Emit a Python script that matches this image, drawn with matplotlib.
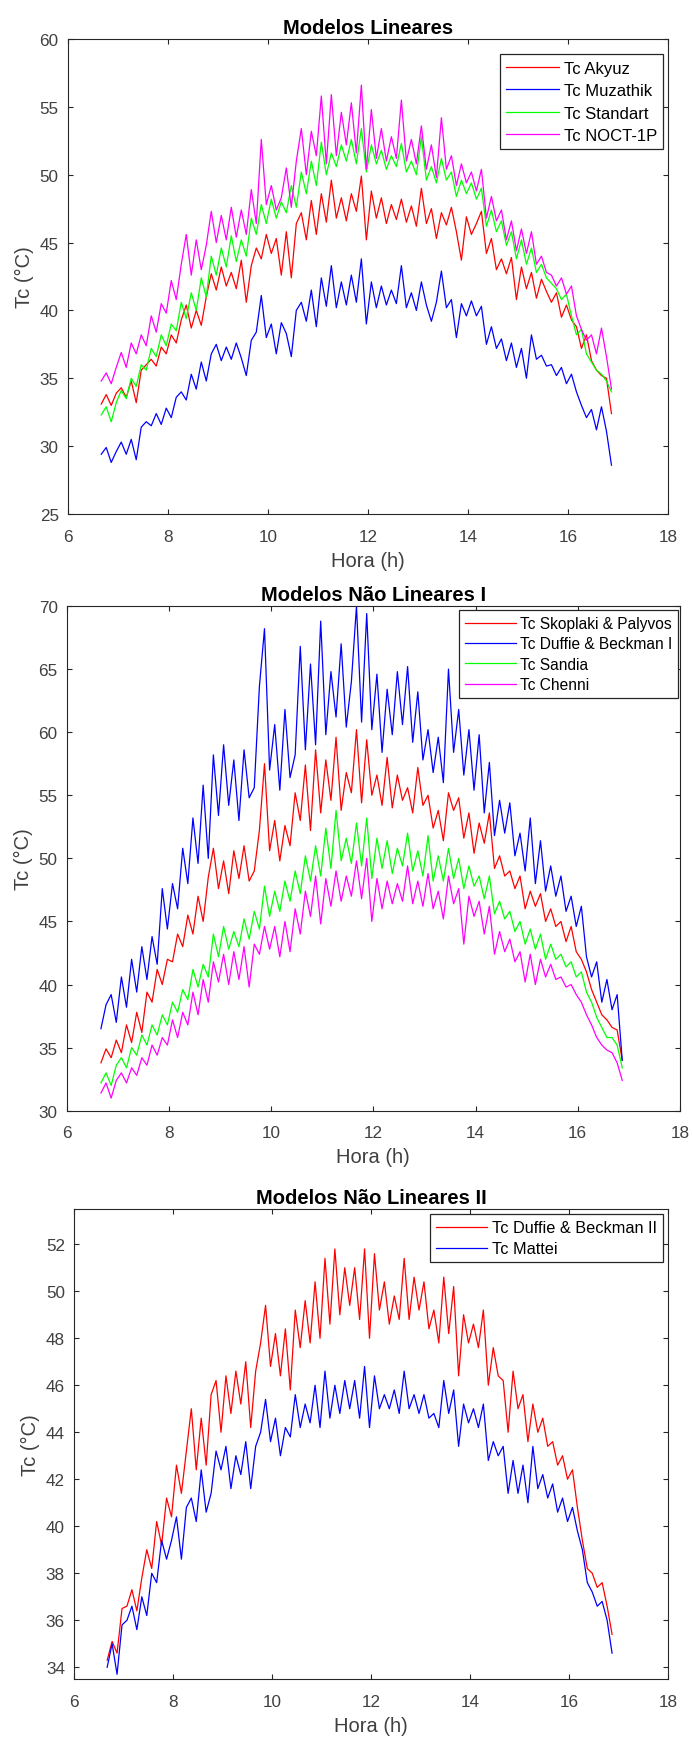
import numpy as np
import matplotlib
matplotlib.use('Agg')
import matplotlib.pyplot as plt

# time axis (h), one sample every 0.1 h
HOUR_START = 6.67
HOUR_STEP = 0.1

# ---- Modelos Lineares ----
tc_akyuz = [
    33.1, 33.8, 33.0, 33.9, 34.3, 33.6, 34.8, 33.2, 35.6, 36.0,
    36.4, 35.9, 37.3, 36.8, 38.2, 37.6, 39.3, 40.4, 38.7, 40.0,
    38.9, 41.0, 42.7, 41.5, 43.2, 41.8, 42.8, 41.6, 43.7, 40.6,
    43.3, 44.6, 43.8, 45.6, 44.2, 45.3, 42.6, 45.8, 42.4, 46.4,
    47.2, 45.2, 48.1, 45.6, 48.6, 46.5, 49.6, 46.8, 48.3, 46.6,
    48.6, 47.3, 49.9, 45.2, 48.8, 46.8, 48.3, 46.4, 47.8, 46.7,
    48.2, 46.5, 47.7, 46.2, 49.0, 46.4, 47.5, 45.3, 47.2, 46.3,
    47.6, 45.8, 43.7, 46.9, 45.6, 46.4, 47.3, 44.2, 45.3, 43.0,
    43.8, 42.7, 43.9, 40.8, 43.2, 41.6, 42.8, 40.9, 42.3, 41.4,
    40.6, 41.3, 39.5, 40.4, 39.3, 38.8, 37.2, 38.2, 36.3, 35.6,
    35.2, 35.0, 32.4]
tc_muzathik = [
    29.4, 29.9, 28.8, 29.6, 30.3, 29.4, 30.5, 29.0, 31.4, 31.8,
    31.5, 32.4, 31.6, 32.8, 32.1, 33.6, 34.0, 33.4, 35.3, 34.2,
    36.2, 34.8, 36.8, 37.5, 36.3, 37.3, 36.4, 37.6, 36.5, 35.2,
    37.8, 38.4, 41.1, 38.0, 39.0, 36.8, 39.1, 38.3, 36.6, 40.0,
    40.6, 39.2, 41.5, 38.8, 42.4, 40.3, 43.3, 40.2, 42.1, 40.4,
    42.6, 40.6, 43.8, 39.0, 42.1, 40.2, 41.8, 40.4, 41.5, 40.5,
    43.3, 40.2, 41.3, 40.0, 42.1, 40.4, 39.2, 40.6, 42.9, 40.2,
    40.8, 38.0, 40.5, 39.6, 40.7, 39.6, 40.3, 37.5, 38.8, 37.2,
    37.9, 36.3, 37.6, 35.8, 37.2, 35.0, 38.2, 36.4, 36.7, 35.9,
    36.0, 35.2, 35.8, 34.6, 35.3, 34.0, 33.0, 32.1, 32.7, 31.2,
    32.9, 31.1, 28.6]
tc_standart = [
    32.3, 32.9, 31.8, 33.2, 34.1, 33.5, 35.0, 34.4, 36.0, 35.6,
    37.2, 36.6, 38.2, 37.4, 39.0, 38.5, 40.6, 39.4, 41.3, 40.0,
    42.4, 41.0, 44.0, 42.6, 44.6, 43.2, 45.5, 43.6, 45.2, 44.0,
    46.8, 45.6, 47.8, 46.4, 48.2, 46.8, 48.0, 47.2, 49.2, 47.6,
    50.2, 48.6, 51.0, 49.2, 52.4, 50.0, 51.6, 50.6, 52.2, 51.0,
    52.6, 50.8, 53.4, 50.2, 52.2, 50.8, 51.8, 50.4, 51.4, 50.6,
    52.3, 50.2, 51.0, 50.0, 52.8, 49.6, 50.6, 49.4, 51.2, 49.6,
    50.2, 48.4, 49.6, 48.6, 49.4, 48.2, 49.0, 46.2, 47.4, 45.8,
    46.6, 44.8, 45.8, 43.8, 45.2, 43.4, 44.6, 42.8, 43.4, 42.4,
    42.0, 41.6, 40.8, 41.2, 39.6, 38.2, 38.6, 36.8, 36.2, 35.6,
    35.3, 34.8, 34.0]
tc_noct = [
    34.8, 35.4, 34.6, 35.8, 36.9, 35.8, 37.6, 36.8, 38.2, 37.4,
    39.6, 38.4, 40.5, 39.8, 42.2, 40.8, 43.4, 45.6, 42.6, 45.2,
    43.0, 44.8, 47.3, 45.0, 47.0, 45.2, 47.6, 45.4, 47.4, 45.6,
    48.9, 46.4, 52.6, 47.8, 49.2, 47.4, 48.3, 50.5, 47.6, 51.0,
    53.4, 50.0, 53.2, 51.4, 55.8, 50.8, 55.9, 51.4, 54.6, 52.2,
    55.3, 51.6, 56.6, 50.4, 54.8, 51.2, 53.4, 51.0, 52.8, 51.2,
    55.5, 51.0, 52.6, 50.8, 53.6, 50.4, 52.2, 49.8, 54.2, 50.4,
    51.4, 49.2, 50.8, 49.4, 50.2, 48.8, 50.4, 46.8, 48.4, 46.6,
    47.4, 45.2, 46.6, 44.4, 46.0, 44.2, 45.8, 43.4, 44.0, 42.8,
    42.6, 41.8, 42.4, 41.2, 41.8, 39.6, 38.6, 37.8, 38.2, 36.8,
    38.7, 36.6, 34.2]

# ---- Modelos Nao Lineares I ----
tc_skoplaki = [
    33.8, 34.9, 34.2, 35.6, 34.6, 36.8, 35.4, 37.8, 36.2, 39.4,
    38.6, 41.2, 40.0, 42.0, 41.8, 44.0, 43.0, 45.5, 44.0, 47.0,
    45.0, 48.5, 50.8, 47.6, 49.8, 47.2, 50.6, 48.4, 51.0, 48.2,
    49.0, 52.2, 57.5, 50.6, 53.0, 49.8, 52.6, 51.0, 55.2, 53.0,
    57.4, 52.2, 58.6, 53.6, 57.8, 54.6, 59.6, 53.8, 56.8, 55.2,
    60.2, 54.4, 59.4, 55.0, 56.6, 54.2, 58.0, 54.0, 56.6, 54.6,
    55.6, 53.6, 57.2, 54.2, 55.0, 52.4, 53.8, 51.4, 55.2, 53.8,
    54.8, 51.6, 53.6, 50.4, 52.8, 51.2, 53.6, 49.2, 50.2, 48.6,
    49.0, 47.6, 48.6, 46.0, 47.4, 46.2, 47.2, 45.0, 46.0, 44.6,
    45.0, 43.4, 44.6, 42.6, 42.0, 41.0, 39.6, 38.6, 37.6, 37.2,
    36.6, 36.4, 34.0]
tc_duffie_1 = [
    36.5, 38.4, 39.2, 37.0, 40.6, 38.2, 42.0, 39.4, 43.0, 40.4,
    43.8, 41.6, 47.6, 44.4, 48.0, 46.0, 50.8, 48.0, 53.2, 49.6,
    55.8, 50.0, 58.2, 53.4, 59.0, 54.2, 57.8, 53.0, 58.6, 54.8,
    55.6, 63.6, 68.2, 57.0, 60.6, 55.4, 61.8, 56.4, 58.2, 66.8,
    58.6, 65.4, 59.0, 68.8, 59.8, 64.8, 61.2, 67.0, 60.4, 64.0,
    70.0, 60.8, 69.4, 60.2, 64.6, 58.4, 63.4, 59.8, 64.8, 60.6,
    65.2, 59.2, 63.2, 57.8, 60.2, 56.8, 59.6, 56.0, 65.0, 58.4,
    61.8, 56.6, 60.2, 55.4, 59.8, 53.6, 57.6, 51.8, 54.6, 52.0,
    54.4, 50.2, 52.0, 49.0, 53.2, 48.0, 51.4, 47.4, 49.4, 47.0,
    48.6, 45.8, 47.0, 44.6, 46.2, 42.2, 40.6, 41.8, 38.6, 40.4,
    38.0, 39.2, 34.0]
tc_sandia = [
    32.2, 33.0, 32.0, 33.6, 34.2, 33.4, 35.0, 34.4, 36.0, 35.2,
    36.8, 36.0, 37.6, 36.8, 38.6, 37.8, 39.6, 38.8, 41.2, 39.8,
    41.6, 40.6, 44.0, 42.2, 44.6, 42.8, 44.2, 43.0, 45.2, 43.6,
    45.8, 44.4, 47.8, 45.4, 47.4, 45.8, 48.2, 46.6, 49.0, 47.2,
    50.2, 48.2, 51.0, 48.6, 52.4, 49.2, 53.8, 49.8, 51.6, 49.6,
    52.8, 49.4, 53.2, 48.4, 51.6, 49.2, 51.4, 48.8, 50.8, 49.4,
    52.0, 49.0, 50.6, 48.6, 51.8, 48.2, 50.2, 48.2, 50.8, 48.4,
    50.0, 47.6, 49.4, 47.8, 48.6, 46.8, 48.6, 45.6, 46.6, 45.2,
    45.8, 44.2, 45.0, 43.2, 44.4, 42.8, 44.0, 42.0, 43.2, 42.0,
    42.4, 41.4, 41.8, 40.6, 41.0, 39.4, 38.6, 37.4, 36.6, 35.8,
    35.8, 35.2, 33.4]
tc_chenni = [
    31.4, 32.2, 31.0, 32.4, 33.0, 32.2, 33.4, 32.8, 34.2, 33.6,
    35.2, 34.4, 35.8, 35.2, 37.2, 35.8, 37.8, 36.8, 39.4, 37.6,
    40.4, 38.6, 41.8, 40.2, 42.4, 40.0, 42.6, 40.4, 43.0, 39.8,
    43.2, 42.4, 44.6, 42.8, 44.6, 42.2, 45.0, 42.6, 46.0, 44.0,
    47.4, 45.4, 48.6, 44.8, 48.4, 46.2, 49.0, 46.6, 48.6, 47.0,
    49.8, 46.8, 50.0, 45.0, 48.4, 46.0, 48.2, 46.4, 48.0, 46.6,
    49.4, 46.4, 48.2, 46.2, 48.8, 46.0, 47.4, 45.2, 48.6, 46.4,
    47.6, 43.2, 47.0, 45.4, 46.6, 44.0, 46.2, 42.4, 44.2, 42.6,
    43.6, 41.8, 42.6, 40.2, 42.4, 40.0, 42.0, 40.6, 41.6, 40.4,
    40.6, 39.8, 40.0, 39.2, 38.6, 37.6, 36.8, 35.8, 35.2, 34.8,
    34.6, 33.8, 32.4]

# ---- Modelos Nao Lineares II ----
tc_duffie_2 = [
    34.3, 35.1, 34.6, 36.5, 36.6, 37.3, 36.4, 37.8, 39.0, 38.2,
    40.2, 39.2, 41.2, 40.4, 42.6, 41.4, 43.2, 45.0, 42.4, 44.6,
    42.6, 45.6, 46.2, 44.0, 46.4, 44.8, 46.6, 45.2, 47.0, 44.2,
    46.6, 47.8, 49.4, 46.8, 48.2, 46.4, 48.4, 45.8, 49.2, 47.6,
    49.6, 47.8, 50.4, 48.0, 51.4, 48.6, 51.8, 49.0, 51.0, 49.4,
    51.0, 48.8, 51.8, 48.0, 51.6, 49.2, 50.4, 48.6, 49.8, 48.8,
    51.4, 48.8, 50.6, 49.2, 50.4, 48.4, 49.2, 47.8, 50.6, 48.2,
    50.2, 46.4, 49.0, 47.8, 48.6, 47.6, 49.2, 46.0, 47.6, 46.4,
    46.2, 44.0, 46.6, 45.0, 45.6, 43.6, 45.2, 44.0, 44.6, 43.4,
    43.6, 42.6, 43.0, 42.0, 42.4, 40.8, 39.4, 38.2, 38.0, 37.4,
    37.6, 36.6, 35.4]
tc_mattei = [
    34.0, 35.0, 33.7, 35.8, 36.0, 36.6, 35.6, 37.0, 36.2, 38.0,
    37.6, 39.4, 38.6, 39.4, 40.4, 38.6, 40.8, 41.2, 40.2, 42.4,
    40.6, 41.4, 43.2, 42.4, 43.4, 41.6, 43.0, 42.2, 43.6, 41.6,
    43.4, 44.0, 45.4, 43.6, 44.6, 43.0, 44.2, 43.8, 45.6, 44.2,
    45.2, 44.4, 46.0, 44.2, 46.6, 44.6, 46.0, 44.8, 46.2, 45.0,
    46.2, 44.6, 46.8, 44.2, 46.4, 45.0, 45.6, 45.0, 45.8, 44.8,
    46.6, 45.0, 45.6, 44.8, 45.6, 44.6, 44.8, 44.2, 46.2, 44.8,
    45.8, 43.4, 45.2, 44.4, 45.0, 44.2, 45.2, 42.8, 43.6, 43.0,
    43.4, 41.4, 42.8, 41.4, 42.6, 41.0, 43.4, 41.6, 42.2, 41.2,
    41.8, 40.6, 41.2, 40.2, 40.8, 39.8, 39.0, 37.6, 37.2, 36.6,
    36.8, 36.0, 34.6]

panels = [
    ('Modelos Lineares', (25, 60), np.arange(25, 61, 5),
     [(tc_akyuz, 'Tc Akyuz', '#ff0000'),
      (tc_muzathik, 'Tc Muzathik', '#0000ff'),
      (tc_standart, 'Tc Standart', '#00ff00'),
      (tc_noct, 'Tc NOCT-1P', '#ff00ff')]),
    ('Modelos Não Lineares I', (30, 70), np.arange(30, 71, 5),
     [(tc_skoplaki, 'Tc Skoplaki & Palyvos', '#ff0000'),
      (tc_duffie_1, 'Tc Duffie & Beckman I', '#0000ff'),
      (tc_sandia, 'Tc Sandia', '#00ff00'),
      (tc_chenni, 'Tc Chenni', '#ff00ff')]),
    ('Modelos Não Lineares II', (33.5, 53.5), np.arange(34, 53, 2),
     [(tc_duffie_2, 'Tc Duffie & Beckman II', '#ff0000'),
      (tc_mattei, 'Tc Mattei', '#0000ff')]),
]

# axes boxes in pixels: left, right, top, bottom
W, H = 693, 1740
boxes = [(67.7, 668, 40, 515), (66.7, 680, 607, 1111.7), (74, 668, 1210, 1680)]
# legend: anchor (axes coords), font size, handle length, text pad, row spacing
legend_style = [
    ((0.992, 0.968), 12.0, 3.2, 0.25, 0.45),
    ((0.997, 0.992), 11.2, 3.3, 0.26, 0.35),
    ((0.992, 0.989), 11.7, 3.15, 0.3, 0.36),
]

plt.rcParams['font.family'] = ['Liberation Sans', 'DejaVu Sans']
fig = plt.figure(figsize=(W / 100, H / 100), dpi=100)

gray = '#404040'
for (title, ylim, yticks, series), (l, r, t, b), lg in zip(panels, boxes, legend_style):
    ax = fig.add_axes([l / W, (H - b) / H, (r - l) / W, (b - t) / H])
    for y, label, color in series:
        x = HOUR_START + HOUR_STEP * np.arange(len(y))
        ax.plot(x, y, color=color, lw=0.9, label=label)
    ax.set_xlim(6, 18)
    ax.set_ylim(*ylim)
    ax.set_xticks(np.arange(6, 19, 2))
    ax.set_yticks(yticks)
    ax.tick_params(direction='in', length=3.6, width=0.8, top=True, right=True,
                   labelsize=12.3, labelcolor=gray, color='#262626')
    ax.tick_params(axis='x', pad=10.5)
    ax.tick_params(axis='y', pad=6.5)
    for s in ax.spines.values():
        s.set_color('#262626')
        s.set_linewidth(0.8)
    ax.set_title(title, fontsize=14.5, fontweight='bold', pad=4, color='#000000')
    ax.set_xlabel('Hora (h)', fontsize=14.5, color=gray, labelpad=5)
    ax.set_ylabel('Tc (°C)', fontsize=14.5, color=gray, labelpad=4)
    anchor, fs, hl, htp, ls = lg
    leg = ax.legend(loc='upper right', bbox_to_anchor=anchor, borderaxespad=0,
                    fontsize=fs, fancybox=False, framealpha=1, edgecolor='#262626',
                    handlelength=hl, handletextpad=htp, labelspacing=ls,
                    borderpad=0.38)
    leg.get_frame().set_linewidth(0.9)

fig.savefig('out.png', dpi=100)
